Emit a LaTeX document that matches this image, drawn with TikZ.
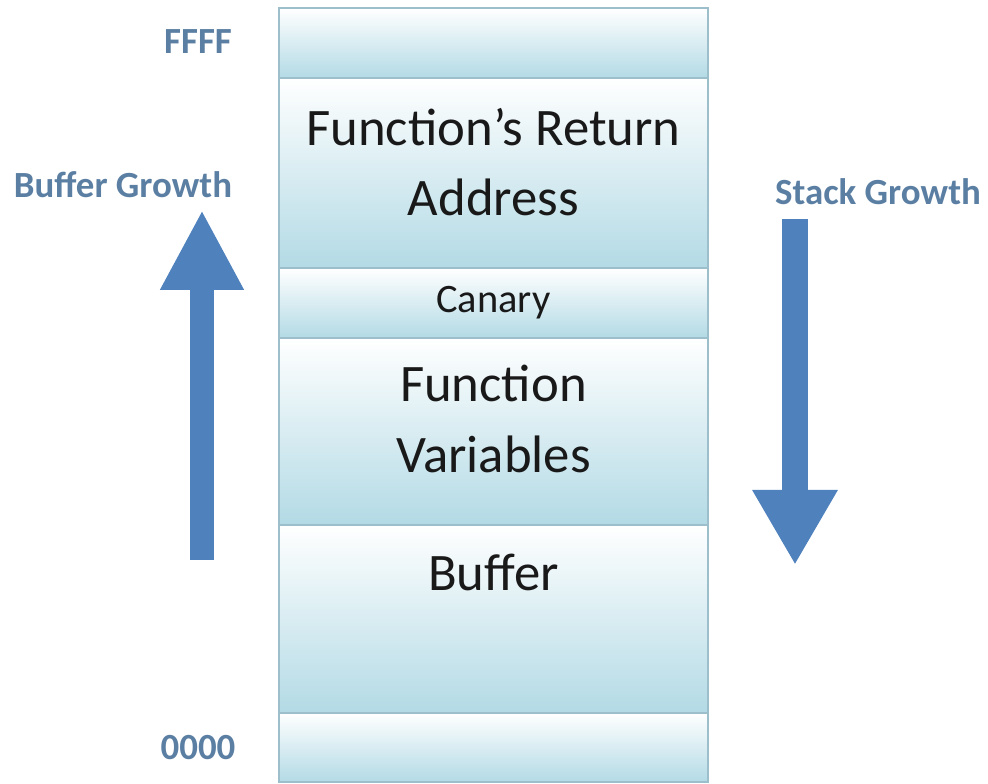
\documentclass[tikz,border=0pt]{standalone}
\usepackage{fontspec}
\setmainfont{Carlito}
\usetikzlibrary{arrows.meta,calc,positioning}
\definecolor{Cell}{HTML}{B3DAE5}
\definecolor{Edge}{HTML}{9CBFCB}
\definecolor{Label}{HTML}{5B7FA3}
\definecolor{Arrow}{HTML}{4F81BD}
\tikzset{cell/.style={draw=Edge,line width=.6pt,top color=white,bottom color=Cell,minimum width=8.58cm,inner sep=0pt,outer sep=0pt},big/.style={font=\fontsize{30}{40}\selectfont,align=center,text=black!90},small/.style={font=\fontsize{23}{28}\selectfont,text=black!90},addr/.style={font=\bfseries\fontsize{21}{25}\selectfont,text=Label},growth/.style={draw=Arrow,line width=.5cm}}
\begin{document}
\begin{tikzpicture}[node distance=0pt]
      \useasboundingbox(0,0)rectangle(19.76,15.68);
      \node[cell,minimum height=1.40cm,anchor=north](top)at(9.87,15.52){};
      \node[cell,minimum height=3.80cm,below=of top](ret){};
      \node[cell,minimum height=1.40cm,below=of ret](canary){};
      \node[cell,minimum height=3.74cm,below=of canary](vars){};
      \node[cell,minimum height=3.76cm,below=of vars](buffer){};
      \node[cell,minimum height=1.38cm,below=of buffer](bottom){};
      \node[big](retText)at($(ret.center)+(0,.22)$){Function's Return\\Address};
      \node[small](canaryText)at(canary.center){Canary};
      \node[big](varsText)at($(vars.center)+(0,.25)$){Function\\Variables};
      \node[big](bufferText)at($(buffer.center)+(0,.94)$){Buffer};
      \node[addr](high)at(3.96,14.84){FFFF};
      \node[addr](low)at(3.96,0.72){0000};
      \node[addr](bufGrow)at(2.46,11.98){Buffer Growth};
      \node[addr](stackGrow)at(17.56,11.84){Stack Growth};
      \coordinate(upFrom)at(4.04,4.48);\coordinate(upTo)at(4.04,11.48);
      \coordinate(downFrom)at(15.9,11.30);\coordinate(downTo)at(15.9,4.38);
      \draw[growth,line width=.48cm,-{Triangle[width=1.56cm,length=1.6cm]}](upFrom)--(upTo);
      \draw[growth,line width=.52cm,-{Triangle[width=1.6cm,length=1.5cm]}](downFrom)--(downTo);
    \end{tikzpicture}
\end{document}
